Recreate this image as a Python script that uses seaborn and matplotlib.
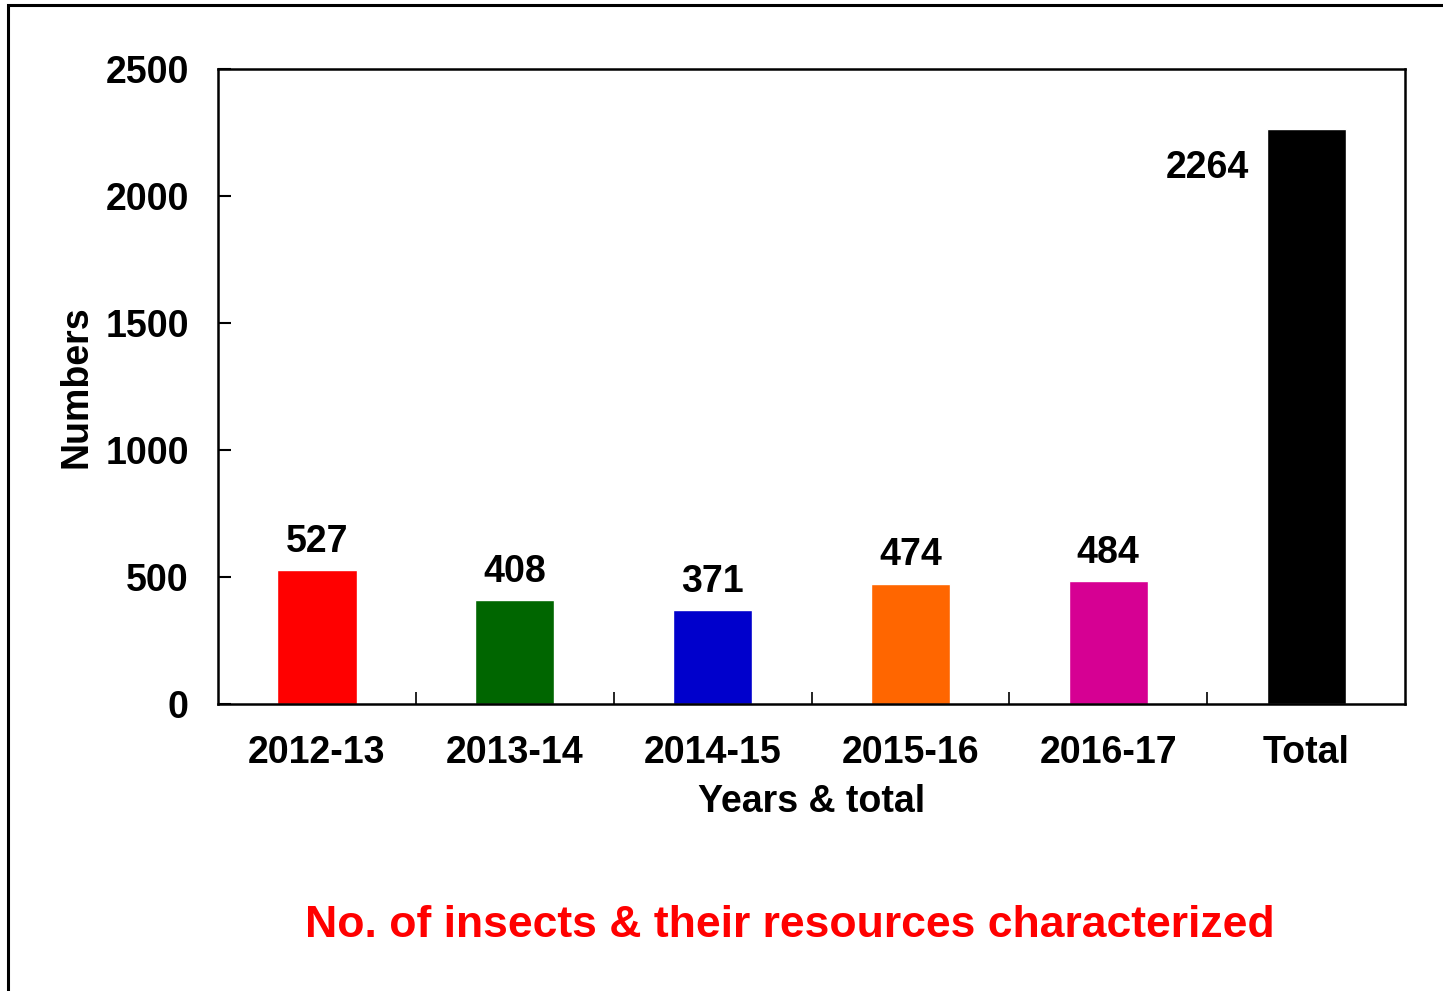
import matplotlib
matplotlib.use("Agg")
import matplotlib.pyplot as plt
import seaborn as sns
import pandas as pd
from matplotlib.patches import Rectangle

years = ["2012-13", "2013-14", "2014-15", "2015-16", "2016-17", "Total"]
counts = [527, 408, 371, 474, 484, 2264]
bar_colors = ["#FF0000", "#006600", "#0000CC", "#FF6600", "#D60093", "#000000"]

sns.set_style("white")
plt.rcParams["font.family"] = ["Liberation Sans", "DejaVu Sans"]
plt.rcParams["font.weight"] = "bold"
plt.rcParams["text.color"] = "black"
plt.rcParams["axes.labelcolor"] = "black"
plt.rcParams["xtick.color"] = "black"
plt.rcParams["ytick.color"] = "black"

df = pd.DataFrame({"year": years, "count": counts})

fig = plt.figure(figsize=(14.43, 9.91), dpi=100)
ax = fig.add_axes([0.1511, 0.2896, 0.8226, 0.6408])

sns.barplot(data=df, x="year", y="count", hue="year", palette=bar_colors,
            width=0.4, saturation=1, legend=False, ax=ax)

ax.set_xlim(-0.5, 5.5)
ax.set_ylim(0, 2500)
ax.set_yticks([0, 500, 1000, 1500, 2000, 2500])

for s in ax.spines.values():
    s.set_visible(True)
    s.set_color("black")
    s.set_linewidth(1.8)

fs = 27
ax.tick_params(axis="y", left=True, direction="in", length=9, width=1.5,
               labelsize=fs, pad=21, colors="black")
ax.tick_params(axis="x", which="major", bottom=True, length=0, labelsize=fs,
               pad=22, colors="black")
ax.set_xticks([0.5, 1.5, 2.5, 3.5, 4.5], minor=True)
ax.tick_params(axis="x", which="minor", bottom=True, direction="in", length=9,
               width=1.2, color="black")
for lab in ax.get_xticklabels() + ax.get_yticklabels():
    lab.set_fontweight("bold")

ax.set_xlabel("Years & total", fontsize=fs, fontweight="bold", labelpad=10)
ax.set_ylabel("Numbers", fontsize=fs, fontweight="bold", labelpad=8)

for i, v in enumerate(counts):
    if i == len(counts) - 1:
        ax.text(i - 0.5, v - 225, str(v), ha="center", va="bottom",
                fontsize=fs, fontweight="bold")
    else:
        ax.text(i, v + 40, str(v), ha="center", va="bottom",
                fontsize=fs, fontweight="bold")

fig.text(0.547, 0.066, "No. of insects & their resources characterized",
         color="#FF0000", fontsize=32, fontweight="bold", ha="center", va="center")

# outer frame
fig.patches.append(Rectangle((8 / 1443, -0.05), 1.1, 1 - 5 / 991 + 0.05,
                             transform=fig.transFigure, fill=False,
                             edgecolor="black", linewidth=2.2))

fig.savefig("out.png", dpi=100)
